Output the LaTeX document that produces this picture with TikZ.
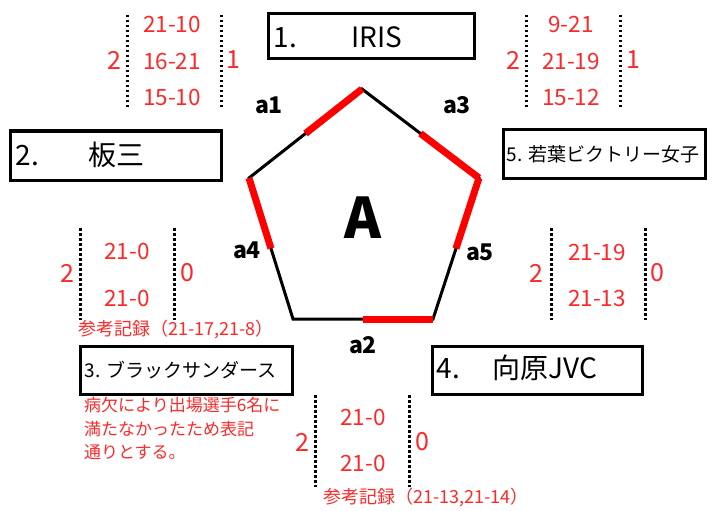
\documentclass[tikz,border=0pt]{standalone}
\usepackage{fontspec}
\setmainfont{Noto Sans CJK JP}
\usetikzlibrary{calc}
\definecolor{scorered}{RGB}{255,40,40}

\begin{document}
\begin{tikzpicture}[x=1pt,y=-1pt,
    teambox/.style={draw,line width=3pt},
    bigname/.style={anchor=west,font=\fontsize{28}{32}\selectfont},
    smallname/.style={anchor=west,font=\fontsize{19}{22}\selectfont},
    score/.style={text=scorered,font=\fontsize{22.5}{26}\selectfont},
    games/.style={text=scorered,font=\fontsize{25}{30}\selectfont},
    note/.style={text=scorered,font=\fontsize{18}{21}\selectfont},
    courtlabel/.style={font=\bfseries\fontsize{23}{26}\selectfont},
    scoredots/.style={line width=3pt,dash pattern=on 2.5pt off 2.5pt},
    winedge/.style={red,line width=7pt}]
    \useasboundingbox (0,0) rectangle (713,511);

    % pentagon
    \coordinate (top) at (362,89);
    \coordinate (ur) at (479,178);
    \coordinate (lr) at (433,319);
    \coordinate (ll) at (293,319);
    \coordinate (ul) at (249,178);
    \draw[line width=3pt] (top) -- (ur) -- (lr) -- (ll) -- (ul) -- cycle;
    \draw[winedge] (top) -- ($(top)!0.5!(ul)$);
    \draw[winedge] ($(top)!0.5!(ur)$) -- (ur);
    \draw[winedge] (ur) -- ($(ur)!0.5!(lr)$);
    \draw[winedge] (ul) -- ($(ul)!0.5!(ll)$);
    \draw[winedge] ($(ll)!0.5!(lr)$) -- (lr);
    \node[font=\bfseries\fontsize{56}{60}\selectfont] (court) at (363,218) {A};
    \node[courtlabel] (a1) at (269,105) {a1};
    \node[courtlabel] (a3) at (457,105) {a3};
    \node[courtlabel] (a4) at (247,250) {a4};
    \node[courtlabel] (a5) at (480,252) {a5};
    \node[courtlabel] (a2) at (363,345) {a2};

    % teams
    \draw[teambox] (268,14) rectangle (474,59);
    \node[bigname] (iris) at (270,37) {\makebox[78pt][l]{1.}IRIS};
    \draw[teambox] (10,131) rectangle (221,180);
    \node[bigname] (itazo) at (12,155) {\makebox[73pt][l]{2.}板三};
    \draw[teambox] (503,130) rectangle (705,178);
    \node[smallname] (wakaba) at (503,154) {5. 若葉ビクトリー女子};
    \draw[teambox] (80,346) rectangle (292,394);
    \node[smallname] (black) at (81,370) {3. ブラックサンダース};
    \draw[teambox] (432,346) rectangle (642,394);
    \node[bigname] (mukai) at (433,368) {\makebox[56pt][l]{4.}向原JVC};

    % a1
    \draw[scoredots] (127,15) -- (127,108);
    \draw[scoredots] (221,15) -- (221,108);
    \node[score] (a1s1) at (172,24) {21-10};
    \node[score] (a1s2) at (172,61) {16-21};
    \node[score] (a1s3) at (172,97) {15-10};
    \node[games] (a1l) at (114,60) {2};
    \node[games] (a1r) at (233,60) {1};

    % a3
    \draw[scoredots] (526,15) -- (526,108);
    \draw[scoredots] (620,15) -- (620,108);
    \node[score] (a3s1) at (571,24) {9-21};
    \node[score] (a3s2) at (571,61) {21-19};
    \node[score] (a3s3) at (571,97) {15-12};
    \node[games] (a3l) at (513,60) {2};
    \node[games] (a3r) at (633,60) {1};

    % a4
    \draw[scoredots] (80,228) -- (80,320);
    \draw[scoredots] (174,228) -- (174,320);
    \node[score] (a4s1) at (127,251) {21-0};
    \node[score] (a4s2) at (127,298) {21-0};
    \node[games] (a4l) at (67,273) {2};
    \node[games] (a4r) at (187,273) {0};
    \node[note] (a4ref) at (176,330) {参考記録（21-17,21-8）};
    \node[note,anchor=north west,align=left,inner sep=0pt,
          font=\fontsize{17}{23.5}\selectfont] (absent) at (84,397)
        {病欠により出場選手6名に\\満たなかったため表記\\通りとする。};

    % a5
    \draw[scoredots] (551,228) -- (551,320);
    \draw[scoredots] (645,228) -- (645,320);
    \node[score] (a5s1) at (597,252) {21-19};
    \node[score] (a5s2) at (597,298) {21-13};
    \node[games] (a5l) at (536,273) {2};
    \node[games] (a5r) at (657,273) {0};

    % a2
    \draw[scoredots] (315,395) -- (315,487);
    \draw[scoredots] (409,395) -- (409,487);
    \node[score] (a2s1) at (363,417) {21-0};
    \node[score] (a2s2) at (363,463) {21-0};
    \node[games] (a2l) at (302,442) {2};
    \node[games] (a2r) at (422,442) {0};
    \node[note] (a2ref) at (426,498) {参考記録（21-13,21-14）};
\end{tikzpicture}
\end{document}
